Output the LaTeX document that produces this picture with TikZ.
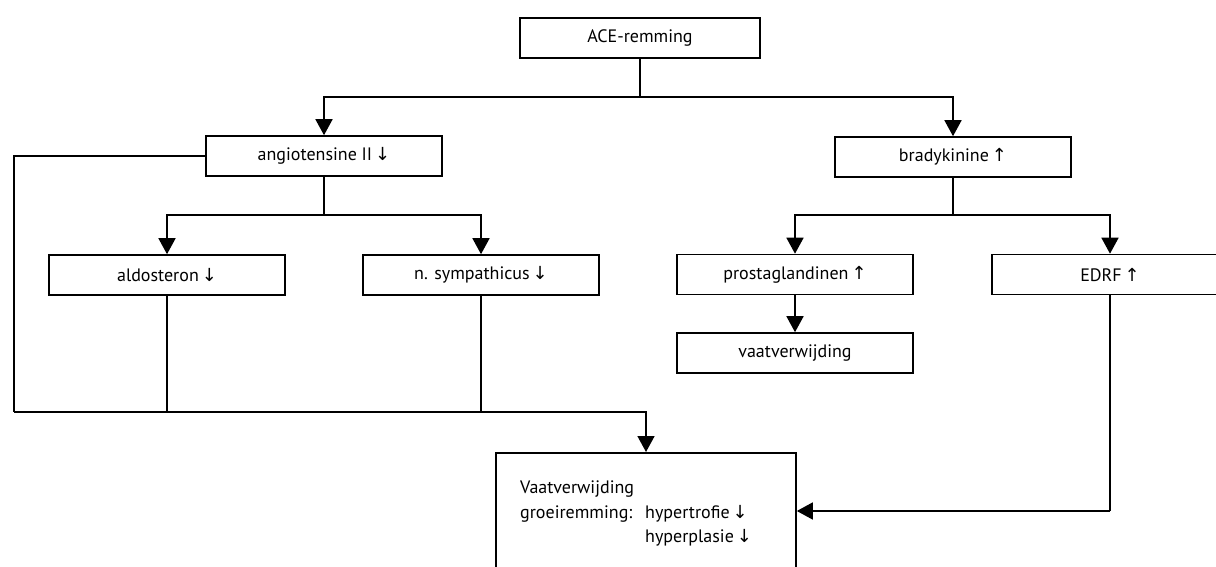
\documentclass[tikz,border=0pt]{standalone}
\usepackage{fontspec}
\setmainfont{PT Sans}
\newfontfamily\arrfont{DejaVu Sans}
\usetikzlibrary{arrows.meta}
\newcommand{\dn}{{\arrfont\fontsize{18}{18}\selectfont ↓}}
\newcommand{\upar}{{\arrfont\fontsize{18}{18}\selectfont ↑}}
\tikzset{
  box/.style={draw, line width=1.6pt, minimum width=236pt, minimum height=40pt, inner sep=0pt, font=\fontsize{18}{20}\selectfont},
  con/.style={line width=1.6pt},
  arr/.style={con, -{Triangle[length=16pt,width=17pt]}},
  txt/.style={inner sep=0pt, font=\fontsize{18}{20}\selectfont}
}
\begin{document}
\begin{tikzpicture}[x=1pt,y=-1pt]
\clip (0,0) rectangle (1216,567);
\fill[white] (0,0) rectangle (1216,567);
% boxes
\node[box, minimum width=240pt] (ace) at (640,38) {ACE-remming};
\node[box] (ang) at (324,156) {angiotensine II\,\dn};
\node[box] (brady) at (953,157) {bradykinine\,\upar};
\node[box] (ald) at (167,275) {aldosteron\,\dn};
\node[box] (nsym) at (481,275) {n. sympathicus\,\dn};
\node[box] (prost) at (795,274.5) {prostaglandinen\,\upar};
\node[box] (edrf) at (1110,274.5) {EDRF\,\upar};
\node[box] (vaat) at (795,353) {vaatverwijding};
\node[box, minimum width=300pt, minimum height=150pt, anchor=north] (res) at (646,452) {};
% text in result box
\node[txt, anchor=base west] (t1) at (520,493) {Vaatverwijding};
\node[txt, anchor=base west] (t2) at (520,518) {groeiremming:};
\node[txt, anchor=base west] (t3) at (645,518) {hypertrofie\,\dn};
\node[txt, anchor=base west] (t4) at (645,542) {hyperplasie\,\dn};
% junctions
\coordinate (j1) at (640,97);
\coordinate (j2) at (324,215);
\coordinate (j3) at (953,215);
\coordinate (j4) at (14,412);
\coordinate (j5) at (1110,511);
% connectors
\draw[con] (ace.south) -- (j1);
\draw[arr] (j1) -| (ang.north);
\draw[arr] (j1) -| (brady.north);
\draw[con] (ang.south) -- (j2);
\draw[arr] (j2) -| (ald.north);
\draw[arr] (j2) -| (nsym.north);
\draw[con] (brady.south) -- (j3);
\draw[arr] (j3) -| (prost.north);
\draw[arr] (j3) -| (edrf.north);
\draw[arr] (prost.south) -- (vaat.north);
\draw[con] (ang.west) -| (j4);
\draw[arr] (j4) -| (res.north);
\draw[con] (ald.south) -- (ald.south |- j4);
\draw[con] (nsym.south) -- (nsym.south |- j4);
\draw[con] (edrf.south) -- (j5);
\draw[arr] (j5) -- (res.east |- j5);
\end{tikzpicture}
\end{document}
